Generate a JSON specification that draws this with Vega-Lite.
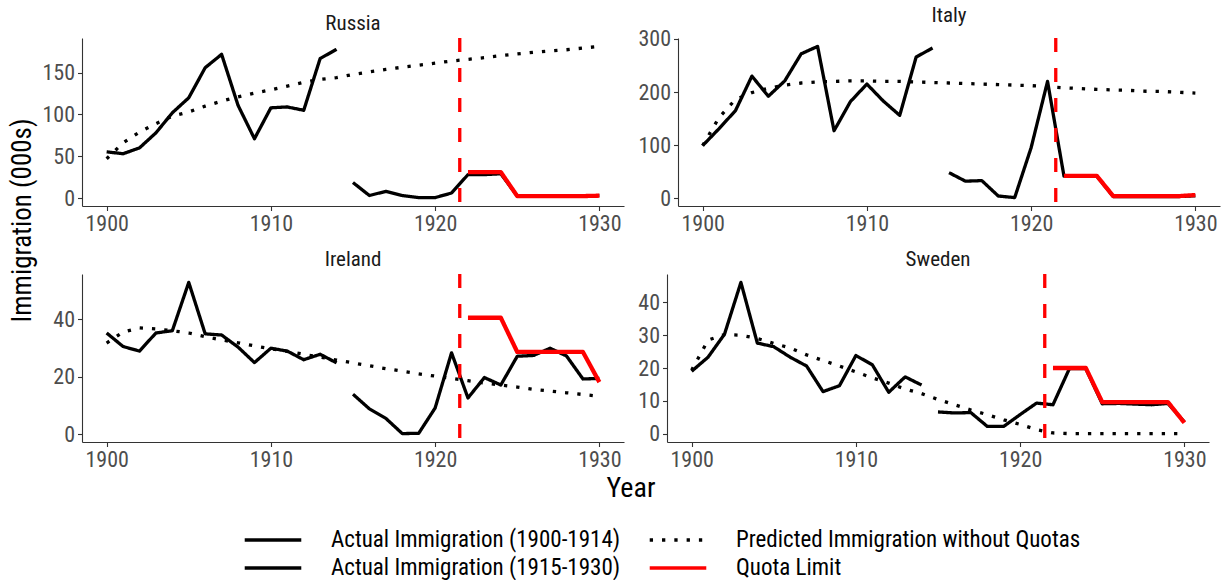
{
  "$schema": "https://vega.github.io/schema/vega-lite/v6.json",
  "background": "white",
  "padding": {"left": 8, "top": 4, "right": 8, "bottom": 2},
  "title": {"text": "Immigration (000s)", "orient": "left", "anchor": "middle", "fontSize": 27, "fontWeight": "normal", "color": "black", "font": "Roboto Condensed", "offset": 5, "dx": 72},
  "data": {"values": [
    {"c":"Russia","s":"A1","y":1900,"v":55.3},{"c":"Russia","s":"A1","y":1901,"v":53},{"c":"Russia","s":"A1","y":1902,"v":60},{"c":"Russia","s":"A1","y":1903,"v":78},{"c":"Russia","s":"A1","y":1904,"v":102},{"c":"Russia","s":"A1","y":1905,"v":120},{"c":"Russia","s":"A1","y":1906,"v":156},{"c":"Russia","s":"A1","y":1907,"v":172},{"c":"Russia","s":"A1","y":1908,"v":111},{"c":"Russia","s":"A1","y":1909,"v":71},{"c":"Russia","s":"A1","y":1910,"v":108},{"c":"Russia","s":"A1","y":1911,"v":109},{"c":"Russia","s":"A1","y":1912,"v":105},{"c":"Russia","s":"A1","y":1913,"v":167},{"c":"Russia","s":"A1","y":1914,"v":178},
    {"c":"Russia","s":"A2","y":1915,"v":18.5},{"c":"Russia","s":"A2","y":1916,"v":3},{"c":"Russia","s":"A2","y":1917,"v":8},{"c":"Russia","s":"A2","y":1918,"v":3},{"c":"Russia","s":"A2","y":1919,"v":0.5},{"c":"Russia","s":"A2","y":1920,"v":0.5},{"c":"Russia","s":"A2","y":1921,"v":6},{"c":"Russia","s":"A2","y":1922,"v":28},{"c":"Russia","s":"A2","y":1923,"v":28},{"c":"Russia","s":"A2","y":1924,"v":29},{"c":"Russia","s":"A2","y":1925,"v":2.5},{"c":"Russia","s":"A2","y":1926,"v":2.5},{"c":"Russia","s":"A2","y":1927,"v":2.5},{"c":"Russia","s":"A2","y":1928,"v":2.5},{"c":"Russia","s":"A2","y":1929,"v":2.5},{"c":"Russia","s":"A2","y":1930,"v":3},
    {"c":"Russia","s":"P","y":1900,"v":47},{"c":"Russia","s":"P","y":1901,"v":66},{"c":"Russia","s":"P","y":1902,"v":79},{"c":"Russia","s":"P","y":1903,"v":89},{"c":"Russia","s":"P","y":1904,"v":98},{"c":"Russia","s":"P","y":1905,"v":103},{"c":"Russia","s":"P","y":1906,"v":110},{"c":"Russia","s":"P","y":1907,"v":116},{"c":"Russia","s":"P","y":1908,"v":121},{"c":"Russia","s":"P","y":1909,"v":125.5},{"c":"Russia","s":"P","y":1910,"v":129.5},{"c":"Russia","s":"P","y":1911,"v":134},{"c":"Russia","s":"P","y":1912,"v":138.5},{"c":"Russia","s":"P","y":1913,"v":142},{"c":"Russia","s":"P","y":1914,"v":144},{"c":"Russia","s":"P","y":1915,"v":148},{"c":"Russia","s":"P","y":1916,"v":151},{"c":"Russia","s":"P","y":1917,"v":154},{"c":"Russia","s":"P","y":1918,"v":156.5},{"c":"Russia","s":"P","y":1919,"v":159},{"c":"Russia","s":"P","y":1920,"v":161.5},{"c":"Russia","s":"P","y":1921,"v":164},{"c":"Russia","s":"P","y":1922,"v":166},{"c":"Russia","s":"P","y":1923,"v":168},{"c":"Russia","s":"P","y":1924,"v":170.5},{"c":"Russia","s":"P","y":1925,"v":172.5},{"c":"Russia","s":"P","y":1926,"v":174.5},{"c":"Russia","s":"P","y":1927,"v":176},{"c":"Russia","s":"P","y":1928,"v":177.5},{"c":"Russia","s":"P","y":1929,"v":179.5},{"c":"Russia","s":"P","y":1930,"v":181.5},
    {"c":"Russia","s":"Q","y":1922,"v":31},{"c":"Russia","s":"Q","y":1923,"v":31},{"c":"Russia","s":"Q","y":1924,"v":31},{"c":"Russia","s":"Q","y":1925,"v":2.3},{"c":"Russia","s":"Q","y":1926,"v":2.3},{"c":"Russia","s":"Q","y":1927,"v":2.3},{"c":"Russia","s":"Q","y":1928,"v":2.3},{"c":"Russia","s":"Q","y":1929,"v":2.3},{"c":"Russia","s":"Q","y":1930,"v":2.8},
    {"c":"Russia","s":"R","y":1921.5,"v":null},
    {"c":"Italy","s":"A1","y":1900,"v":99},{"c":"Italy","s":"A1","y":1901,"v":131},{"c":"Italy","s":"A1","y":1902,"v":165},{"c":"Italy","s":"A1","y":1903,"v":230},{"c":"Italy","s":"A1","y":1904,"v":192},{"c":"Italy","s":"A1","y":1905,"v":221},{"c":"Italy","s":"A1","y":1906,"v":272},{"c":"Italy","s":"A1","y":1907,"v":286},{"c":"Italy","s":"A1","y":1908,"v":127},{"c":"Italy","s":"A1","y":1909,"v":182},{"c":"Italy","s":"A1","y":1910,"v":215},{"c":"Italy","s":"A1","y":1911,"v":183},{"c":"Italy","s":"A1","y":1912,"v":156},{"c":"Italy","s":"A1","y":1913,"v":266},{"c":"Italy","s":"A1","y":1914,"v":283},
    {"c":"Italy","s":"A2","y":1915,"v":48},{"c":"Italy","s":"A2","y":1916,"v":32},{"c":"Italy","s":"A2","y":1917,"v":33},{"c":"Italy","s":"A2","y":1918,"v":4},{"c":"Italy","s":"A2","y":1919,"v":1},{"c":"Italy","s":"A2","y":1920,"v":95},{"c":"Italy","s":"A2","y":1921,"v":220},{"c":"Italy","s":"A2","y":1922,"v":41.5},{"c":"Italy","s":"A2","y":1923,"v":41.5},{"c":"Italy","s":"A2","y":1924,"v":41.5},{"c":"Italy","s":"A2","y":1925,"v":3},{"c":"Italy","s":"A2","y":1926,"v":3},{"c":"Italy","s":"A2","y":1927,"v":3},{"c":"Italy","s":"A2","y":1928,"v":3},{"c":"Italy","s":"A2","y":1929,"v":3},{"c":"Italy","s":"A2","y":1930,"v":4.5},
    {"c":"Italy","s":"P","y":1900,"v":99},{"c":"Italy","s":"P","y":1901,"v":152},{"c":"Italy","s":"P","y":1902,"v":186},{"c":"Italy","s":"P","y":1903,"v":199},{"c":"Italy","s":"P","y":1904,"v":207},{"c":"Italy","s":"P","y":1905,"v":213},{"c":"Italy","s":"P","y":1906,"v":217},{"c":"Italy","s":"P","y":1907,"v":219},{"c":"Italy","s":"P","y":1908,"v":220},{"c":"Italy","s":"P","y":1909,"v":221},{"c":"Italy","s":"P","y":1910,"v":221},{"c":"Italy","s":"P","y":1911,"v":220},{"c":"Italy","s":"P","y":1912,"v":220},{"c":"Italy","s":"P","y":1913,"v":219},{"c":"Italy","s":"P","y":1914,"v":218},{"c":"Italy","s":"P","y":1915,"v":217},{"c":"Italy","s":"P","y":1916,"v":216},{"c":"Italy","s":"P","y":1917,"v":215},{"c":"Italy","s":"P","y":1918,"v":214},{"c":"Italy","s":"P","y":1919,"v":213},{"c":"Italy","s":"P","y":1920,"v":212},{"c":"Italy","s":"P","y":1921,"v":210},{"c":"Italy","s":"P","y":1922,"v":208},{"c":"Italy","s":"P","y":1923,"v":206.5},{"c":"Italy","s":"P","y":1924,"v":205},{"c":"Italy","s":"P","y":1925,"v":204},{"c":"Italy","s":"P","y":1926,"v":203},{"c":"Italy","s":"P","y":1927,"v":201.5},{"c":"Italy","s":"P","y":1928,"v":201},{"c":"Italy","s":"P","y":1929,"v":199.5},{"c":"Italy","s":"P","y":1930,"v":198},
    {"c":"Italy","s":"Q","y":1922,"v":42},{"c":"Italy","s":"Q","y":1923,"v":42},{"c":"Italy","s":"Q","y":1924,"v":42},{"c":"Italy","s":"Q","y":1925,"v":3.8},{"c":"Italy","s":"Q","y":1926,"v":3.8},{"c":"Italy","s":"Q","y":1927,"v":3.8},{"c":"Italy","s":"Q","y":1928,"v":3.8},{"c":"Italy","s":"Q","y":1929,"v":3.8},{"c":"Italy","s":"Q","y":1930,"v":5.8},
    {"c":"Italy","s":"R","y":1921.5,"v":null},
    {"c":"Ireland","s":"A1","y":1900,"v":35.2},{"c":"Ireland","s":"A1","y":1901,"v":30.5},{"c":"Ireland","s":"A1","y":1902,"v":28.9},{"c":"Ireland","s":"A1","y":1903,"v":35.2},{"c":"Ireland","s":"A1","y":1904,"v":36},{"c":"Ireland","s":"A1","y":1905,"v":52.8},{"c":"Ireland","s":"A1","y":1906,"v":34.9},{"c":"Ireland","s":"A1","y":1907,"v":34.5},{"c":"Ireland","s":"A1","y":1908,"v":30.3},{"c":"Ireland","s":"A1","y":1909,"v":24.9},{"c":"Ireland","s":"A1","y":1910,"v":29.9},{"c":"Ireland","s":"A1","y":1911,"v":28.9},{"c":"Ireland","s":"A1","y":1912,"v":25.9},{"c":"Ireland","s":"A1","y":1913,"v":27.8},{"c":"Ireland","s":"A1","y":1914,"v":24.8},
    {"c":"Ireland","s":"A2","y":1915,"v":13.9},{"c":"Ireland","s":"A2","y":1916,"v":8.8},{"c":"Ireland","s":"A2","y":1917,"v":5.5},{"c":"Ireland","s":"A2","y":1918,"v":0.2},{"c":"Ireland","s":"A2","y":1919,"v":0.3},{"c":"Ireland","s":"A2","y":1920,"v":9.1},{"c":"Ireland","s":"A2","y":1921,"v":28.3},{"c":"Ireland","s":"A2","y":1922,"v":12.6},{"c":"Ireland","s":"A2","y":1923,"v":19.7},{"c":"Ireland","s":"A2","y":1924,"v":17.1},{"c":"Ireland","s":"A2","y":1925,"v":27.1},{"c":"Ireland","s":"A2","y":1926,"v":27.4},{"c":"Ireland","s":"A2","y":1927,"v":29.9},{"c":"Ireland","s":"A2","y":1928,"v":27.2},{"c":"Ireland","s":"A2","y":1929,"v":19.2},{"c":"Ireland","s":"A2","y":1930,"v":19.4},
    {"c":"Ireland","s":"P","y":1900,"v":31.7},{"c":"Ireland","s":"P","y":1901,"v":35.5},{"c":"Ireland","s":"P","y":1902,"v":37},{"c":"Ireland","s":"P","y":1903,"v":36.6},{"c":"Ireland","s":"P","y":1904,"v":36},{"c":"Ireland","s":"P","y":1905,"v":35.2},{"c":"Ireland","s":"P","y":1906,"v":33.9},{"c":"Ireland","s":"P","y":1907,"v":32.8},{"c":"Ireland","s":"P","y":1908,"v":31.8},{"c":"Ireland","s":"P","y":1909,"v":30.7},{"c":"Ireland","s":"P","y":1910,"v":29.7},{"c":"Ireland","s":"P","y":1911,"v":28.8},{"c":"Ireland","s":"P","y":1912,"v":27.8},{"c":"Ireland","s":"P","y":1913,"v":26.8},{"c":"Ireland","s":"P","y":1914,"v":25.8},{"c":"Ireland","s":"P","y":1915,"v":24.8},{"c":"Ireland","s":"P","y":1916,"v":23.8},{"c":"Ireland","s":"P","y":1917,"v":22.8},{"c":"Ireland","s":"P","y":1918,"v":21.9},{"c":"Ireland","s":"P","y":1919,"v":21},{"c":"Ireland","s":"P","y":1920,"v":20.2},{"c":"Ireland","s":"P","y":1921,"v":19.4},{"c":"Ireland","s":"P","y":1922,"v":18.6},{"c":"Ireland","s":"P","y":1923,"v":17.8},{"c":"Ireland","s":"P","y":1924,"v":17.1},{"c":"Ireland","s":"P","y":1925,"v":16.4},{"c":"Ireland","s":"P","y":1926,"v":15.6},{"c":"Ireland","s":"P","y":1927,"v":15},{"c":"Ireland","s":"P","y":1928,"v":14.4},{"c":"Ireland","s":"P","y":1929,"v":13.8},{"c":"Ireland","s":"P","y":1930,"v":13.2},
    {"c":"Ireland","s":"Q","y":1922,"v":40.5},{"c":"Ireland","s":"Q","y":1923,"v":40.5},{"c":"Ireland","s":"Q","y":1924,"v":40.5},{"c":"Ireland","s":"Q","y":1925,"v":28.6},{"c":"Ireland","s":"Q","y":1926,"v":28.6},{"c":"Ireland","s":"Q","y":1927,"v":28.6},{"c":"Ireland","s":"Q","y":1928,"v":28.6},{"c":"Ireland","s":"Q","y":1929,"v":28.6},{"c":"Ireland","s":"Q","y":1930,"v":18.1},
    {"c":"Ireland","s":"R","y":1921.5,"v":null},
    {"c":"Sweden","s":"A1","y":1900,"v":19},{"c":"Sweden","s":"A1","y":1901,"v":23.3},{"c":"Sweden","s":"A1","y":1902,"v":30.3},{"c":"Sweden","s":"A1","y":1903,"v":46.1},{"c":"Sweden","s":"A1","y":1904,"v":27.6},{"c":"Sweden","s":"A1","y":1905,"v":26.5},{"c":"Sweden","s":"A1","y":1906,"v":23.3},{"c":"Sweden","s":"A1","y":1907,"v":20.6},{"c":"Sweden","s":"A1","y":1908,"v":12.8},{"c":"Sweden","s":"A1","y":1909,"v":14.6},{"c":"Sweden","s":"A1","y":1910,"v":23.8},{"c":"Sweden","s":"A1","y":1911,"v":21},{"c":"Sweden","s":"A1","y":1912,"v":12.6},{"c":"Sweden","s":"A1","y":1913,"v":17.3},{"c":"Sweden","s":"A1","y":1914,"v":14.8},
    {"c":"Sweden","s":"A2","y":1915,"v":6.6},{"c":"Sweden","s":"A2","y":1916,"v":6.3},{"c":"Sweden","s":"A2","y":1917,"v":6.4},{"c":"Sweden","s":"A2","y":1918,"v":2.2},{"c":"Sweden","s":"A2","y":1919,"v":2.2},{"c":"Sweden","s":"A2","y":1920,"v":5.8},{"c":"Sweden","s":"A2","y":1921,"v":9.3},{"c":"Sweden","s":"A2","y":1922,"v":8.8},{"c":"Sweden","s":"A2","y":1923,"v":19.8},{"c":"Sweden","s":"A2","y":1924,"v":19.8},{"c":"Sweden","s":"A2","y":1925,"v":9.1},{"c":"Sweden","s":"A2","y":1926,"v":9.2},{"c":"Sweden","s":"A2","y":1927,"v":9},{"c":"Sweden","s":"A2","y":1928,"v":8.8},{"c":"Sweden","s":"A2","y":1929,"v":9.2},{"c":"Sweden","s":"A2","y":1930,"v":3.6},
    {"c":"Sweden","s":"P","y":1900,"v":19.3},{"c":"Sweden","s":"P","y":1901,"v":28.5},{"c":"Sweden","s":"P","y":1902,"v":30.2},{"c":"Sweden","s":"P","y":1903,"v":30},{"c":"Sweden","s":"P","y":1904,"v":29},{"c":"Sweden","s":"P","y":1905,"v":27.5},{"c":"Sweden","s":"P","y":1906,"v":26.1},{"c":"Sweden","s":"P","y":1907,"v":24},{"c":"Sweden","s":"P","y":1908,"v":22.3},{"c":"Sweden","s":"P","y":1909,"v":20.6},{"c":"Sweden","s":"P","y":1910,"v":18.8},{"c":"Sweden","s":"P","y":1911,"v":17},{"c":"Sweden","s":"P","y":1912,"v":15.4},{"c":"Sweden","s":"P","y":1913,"v":13.6},{"c":"Sweden","s":"P","y":1914,"v":12.2},{"c":"Sweden","s":"P","y":1915,"v":10.4},{"c":"Sweden","s":"P","y":1916,"v":8.8},{"c":"Sweden","s":"P","y":1917,"v":7.2},{"c":"Sweden","s":"P","y":1918,"v":5.8},{"c":"Sweden","s":"P","y":1919,"v":4.2},{"c":"Sweden","s":"P","y":1920,"v":2.8},{"c":"Sweden","s":"P","y":1921,"v":1.2},{"c":"Sweden","s":"P","y":1922,"v":0.2},{"c":"Sweden","s":"P","y":1923,"v":0},{"c":"Sweden","s":"P","y":1924,"v":0},{"c":"Sweden","s":"P","y":1925,"v":0},{"c":"Sweden","s":"P","y":1926,"v":0},{"c":"Sweden","s":"P","y":1927,"v":0},{"c":"Sweden","s":"P","y":1928,"v":0},{"c":"Sweden","s":"P","y":1929,"v":0},{"c":"Sweden","s":"P","y":1930,"v":0},
    {"c":"Sweden","s":"Q","y":1922,"v":20},{"c":"Sweden","s":"Q","y":1923,"v":20},{"c":"Sweden","s":"Q","y":1924,"v":20},{"c":"Sweden","s":"Q","y":1925,"v":9.6},{"c":"Sweden","s":"Q","y":1926,"v":9.6},{"c":"Sweden","s":"Q","y":1927,"v":9.6},{"c":"Sweden","s":"Q","y":1928,"v":9.6},{"c":"Sweden","s":"Q","y":1929,"v":9.6},{"c":"Sweden","s":"Q","y":1930,"v":3.3},
    {"c":"Sweden","s":"R","y":1921.5,"v":null}
  ]},
  "facet": {"field": "c", "type": "nominal", "sort": ["Russia", "Italy", "Ireland", "Sweden"],
    "header": {"title": "Year", "titleOrient": "bottom", "labelOrient": "top", "labelFontSize": 21, "labelColor": "#1a1a1a", "labelFont": "Roboto Condensed", "labelPadding": 2, "titleFontSize": 28, "titleFontWeight": "normal", "titleColor": "black", "titleFont": "Roboto Condensed", "titlePadding": 4}},
  "columns": 2,
  "spacing": {"column": 13, "row": 14},
  "resolve": {"scale": {"y": "independent"}, "axis": {"x": "independent", "y": "independent"}},
  "spec": {
    "width": 542,
    "height": 168,
    "encoding": {
      "x": {"field": "y", "type": "quantitative", "scale": {"domain": [1898.5, 1931.5], "nice": false, "zero": false},
        "axis": {"title": null, "values": [1900, 1910, 1920, 1930], "format": "d"}},
      "y": {"field": "v", "type": "quantitative", "scale": {"zero": false, "nice": false, "padding": 8.4},
        "axis": {"title": null, "tickCount": 4}}
    },
    "layer": [
      {"transform": [{"filter": "datum.s != 'R' && datum.s != 'Q'"}],
       "mark": {"type": "line", "strokeWidth": 3.3, "strokeCap": "butt", "strokeJoin": "round"},
       "encoding": {
         "color": {"field": "s", "type": "nominal", "scale": {"domain": ["A1", "P", "A2", "Q"], "range": ["#000000", "#000000", "#000000", "#ff0000"]},
           "legend": {"title": null, "orient": "none", "legendX": 175, "legendY": 486, "direction": "horizontal", "columns": 2,
             "labelExpr": "datum.label == 'A1' ? 'Actual Immigration (1900-1914)' : datum.label == 'A2' ? 'Actual Immigration (1915-1930)' : datum.label == 'P' ? 'Predicted Immigration without Quotas' : 'Quota Limit'"}},
         "strokeDash": {"field": "s", "type": "nominal", "scale": {"domain": ["A1", "P", "A2", "Q"], "range": [[1, 0], [3.3, 9], [1, 0], [1, 0]]},
           "legend": {"title": null, "orient": "none", "legendX": 175, "legendY": 486, "direction": "horizontal", "columns": 2,
             "labelExpr": "datum.label == 'A1' ? 'Actual Immigration (1900-1914)' : datum.label == 'A2' ? 'Actual Immigration (1915-1930)' : datum.label == 'P' ? 'Predicted Immigration without Quotas' : 'Quota Limit'"}}
       }},
      {"transform": [{"filter": "datum.s == 'Q'"}],
       "mark": {"type": "line", "strokeWidth": 4.3, "strokeCap": "butt", "strokeJoin": "round"},
       "encoding": {
         "color": {"field": "s", "type": "nominal"},
         "strokeDash": {"field": "s", "type": "nominal"}
       }},
      {"transform": [{"filter": "datum.s == 'R'"}],
       "mark": {"type": "rule", "color": "#ff0000", "strokeWidth": 3.3, "strokeDash": [14, 16]},
       "encoding": {"y": null}}
    ]
  },
  "config": {
    "font": "Roboto Condensed",
    "view": {"stroke": null},
    "axis": {"grid": false, "domainColor": "#333333", "domainWidth": 1.1, "tickColor": "#333333", "tickWidth": 1.1, "tickSize": 4.5, "labelColor": "#4d4d4d", "labelFontSize": 22, "labelPadding": 3, "labelFont": "Roboto Condensed"},
    "legend": {"symbolType": "M-2,0H2", "symbolSize": 800, "symbolStrokeWidth": 3.3, "labelFontSize": 23, "labelLimit": 0, "labelColor": "black", "labelFont": "Roboto Condensed", "columnPadding": 22, "rowPadding": -6, "labelOffset": 42}
  }
}
